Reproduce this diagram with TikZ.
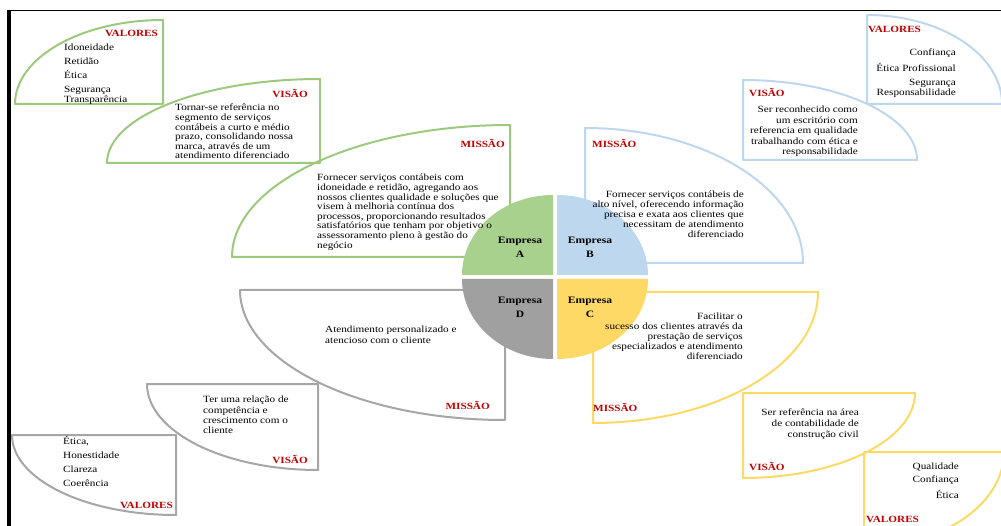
\documentclass[tikz,border=0pt]{standalone}
\usepackage{fontspec}
\setmainfont{Liberation Serif}[FakeStretch=1.18]
\usetikzlibrary{positioning}
\definecolor{lineA}{HTML}{9DC97F}
\definecolor{fillA}{HTML}{A9D18E}
\definecolor{lineB}{HTML}{BDD7EE}
\definecolor{fillB}{HTML}{BDD7EE}
\definecolor{lineC}{HTML}{FFD966}
\definecolor{fillC}{HTML}{FFD966}
\definecolor{lineD}{HTML}{A6A6A6}
\definecolor{fillD}{HTML}{A0A0A0}
\definecolor{titred}{HTML}{C00000}
\tikzset{petal/.style={line width=2pt, line join=round},
  lbl/.style={font=\fontsize{9.5}{10}\selectfont\bfseries, text=titred, inner sep=0pt},
  txt/.style={font=\fontsize{9.5}{9.6}\selectfont, inner sep=0pt},
  emp/.style={font=\fontsize{9.8}{14}\selectfont\bfseries, align=center, inner sep=0pt}}
\newcommand{\petalTL}[5]{\draw[petal,#1] (#2,#3-#5) -- (#2,#3) -- (#2-#4,#3) arc[start angle=180,end angle=270,x radius=#4,y radius=#5] -- cycle;}
\newcommand{\petalTR}[5]{\draw[petal,#1] (#2,#3-#5) -- (#2,#3) -- (#2+#4,#3) arc[start angle=0,end angle=-90,x radius=#4,y radius=#5] -- cycle;}
\newcommand{\petalBL}[5]{\draw[petal,#1] (#2,#3+#5) -- (#2,#3) -- (#2-#4,#3) arc[start angle=180,end angle=90,x radius=#4,y radius=#5] -- cycle;}
\newcommand{\petalBR}[5]{\draw[petal,#1] (#2,#3+#5) -- (#2,#3) -- (#2+#4,#3) arc[start angle=0,end angle=90,x radius=#4,y radius=#5] -- cycle;}
\begin{document}
\begin{tikzpicture}[x=1pt, y=-1pt]
    \clip (0,0) rectangle (1001,526);
    \useasboundingbox (0,0) rectangle (1001,526);
    \fill[black] (7,10) rectangle (10.5,526);
    \draw[line width=1.4pt] (7,10.7) -- (1001,10.7);

    \petalTL{lineA}{163}{104}{148}{84}
    \petalTL{lineA}{320}{163}{213}{84}
    \petalTL{lineA}{510}{257}{278}{132}
    \petalTR{lineB}{867}{104}{135}{89}
    \petalTR{lineB}{743}{160}{174}{80}
    \petalTR{lineB}{585}{263}{218}{135}
    \petalBL{lineD}{176}{435}{164}{80}
    \petalBL{lineD}{318}{384}{171}{86}
    \petalBL{lineD}{505}{290}{265}{130}
    \petalBR{lineC}{864}{452}{140}{95}
    \petalBR{lineC}{743}{393}{172}{85}
    \petalBR{lineC}{593}{292}{225}{131}

    \fill[fillA] (553,275) -- (462,275) arc[start angle=180,end angle=270,x radius=91,y radius=80] -- cycle;
    \fill[fillB] (557,275) -- (648,275) arc[start angle=0,end angle=-90,x radius=91,y radius=80] -- cycle;
    \fill[fillD] (553,279) -- (462,279) arc[start angle=180,end angle=90,x radius=91,y radius=80] -- cycle;
    \fill[fillC] (557,279) -- (648,279) arc[start angle=0,end angle=90,x radius=91,y radius=80] -- cycle;
    \node[emp] (empA) at (520,247) {Empresa\\A};
    \node[emp] (empB) at (590,247) {Empresa\\B};
    \node[emp] (empD) at (520,307) {Empresa\\D};
    \node[emp] (empC) at (590,307) {Empresa\\C};

    \node[lbl, anchor=east] (valA) at (158,33) {VALORES};
    \node[txt, anchor=north west, align=left] (valAtxt) at (64,44) {Idoneidade\\[4.4pt]Retidão\\[4pt]Ética\\[5pt]Segurança\\Transparência};
    \node[lbl, anchor=east] (visA) at (308,93) {VISÃO};
    \node[txt, anchor=north west, align=left] (visAtxt) at (175,104) {Tornar-se referência no\\segmento de serviços\\contábeis a curto e médio\\prazo, consolidando nossa\\marca, através de um\\atendimento diferenciado};
    \node[lbl, anchor=east] (misA) at (505,143) {MISSÃO};
    \node[txt, anchor=north west, align=left] (misAtxt) at (317,174) {Fornecer serviços contábeis com\\idoneidade e retidão, agregando aos\\nossos clientes qualidade e soluções que\\visem à melhoria contínua dos\\processos, proporcionando resultados\\satisfatórios que tenham por objetivo o\\assessoramento pleno à gestão do\\negócio};

    \node[lbl, anchor=west] (valB) at (868,29) {VALORES};
    \node[txt, anchor=north east, align=right] (valBtxt) at (956,49) {Confiança\\[4.4pt]Ética Profissional\\[4.4pt]Segurança\\Responsabilidade};
    \node[lbl, anchor=west] (visB) at (749,92) {VISÃO};
    \node[txt, anchor=north east, align=right, font=\fontsize{9.5}{10.5}\selectfont] (visBtxt) at (858,106) {Ser reconhecido como\\um escritório com\\referencia em qualidade\\trabalhando com ética e\\responsabilidade};
    \node[lbl, anchor=west] (misB) at (592,143) {MISSÃO};
    \node[txt, anchor=north east, align=right, font=\fontsize{9.5}{10}\selectfont] (misBtxt) at (744,191) {Fornecer serviços contábeis de\\alto nível, oferecendo informação\\precisa e exata aos clientes que\\necessitam de atendimento\\diferenciado};

    \node[txt, anchor=north west, align=left, font=\fontsize{9.5}{10.5}\selectfont] (misDtxt) at (325,326) {Atendimento personalizado e\\atencioso com o cliente};
    \node[lbl, anchor=east] (misD) at (490,405) {MISSÃO};
    \node[txt, anchor=north west, align=left, font=\fontsize{9.5}{10.3}\selectfont] (visDtxt) at (203,396) {Ter uma relação de\\competência e\\crescimento com o\\cliente};
    \node[lbl, anchor=east] (visD) at (308,459) {VISÃO};
    \node[txt, anchor=north west, align=left] (valDtxt) at (63,436) {Ética,\\[5pt]Honestidade\\[4.4pt]Clareza\\[4.4pt]Coerência};
    \node[lbl, anchor=east] (valD) at (173,505) {VALORES};

    \node[txt, anchor=north east, align=right, font=\fontsize{9.5}{10}\selectfont] (misCtxt) at (743,313) {Facilitar o\\sucesso dos clientes através da\\prestação de serviços\\especializados e atendimento\\diferenciado};
    \node[lbl, anchor=west] (misC) at (593,407) {MISSÃO};
    \node[txt, anchor=north east, align=right, font=\fontsize{9.5}{11}\selectfont] (visCtxt) at (859,409) {Ser referência na área\\de contabilidade de\\construção civil};
    \node[lbl, anchor=west] (visC) at (749,466) {VISÃO};
    \node[txt, anchor=north east, align=right] (valCtxt) at (959,463) {Qualidade\\[3.6pt]Confiança\\[4.4pt]Ética};
    \node[lbl, anchor=west] (valC) at (866,519) {VALORES};
\end{tikzpicture}
\end{document}
